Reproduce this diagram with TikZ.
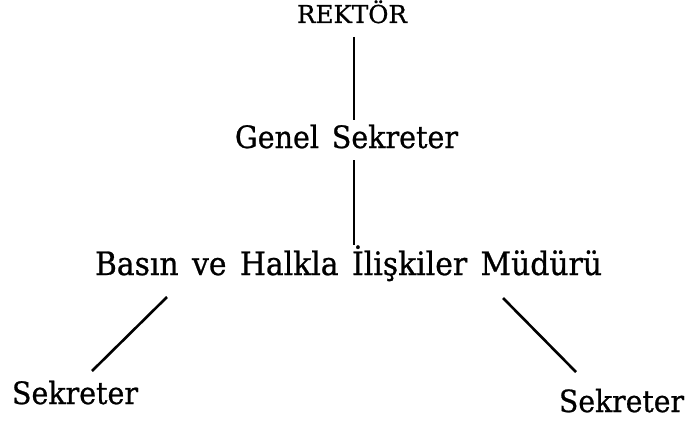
\documentclass[tikz,border=0pt]{standalone}
\usepackage{fontspec}
\setmainfont{DejaVu Serif}[FakeBold=0.8]
\usetikzlibrary{calc}
\newcommand{\fitw}[3]{\resizebox{#1pt}{!}{\scalebox{1}[#2]{\fontsize{20}{24}\selectfont\spaceskip=0.45em #3}}}
\begin{document}
\begin{tikzpicture}[x=1pt,y=-1pt,
  lbl/.style={anchor=base,inner sep=0pt,text=black},
  conn/.style={draw=black,line width=2.6pt}]
\useasboundingbox[fill=white] (0,0) rectangle (687,420);
\node[lbl] (rektor) at (352,23) {\fitw{110}{1.0}{REKTÖR}};
\node[lbl] (genel) at (346.5,148) {\fitw{223}{1.08}{Genel Sekreter}};
\node[lbl] (mudur) at (348.5,275) {\fitw{507}{1.08}{Basın ve Halkla İlişkiler Müdürü}};
\node[lbl] (sekl) at (75,404) {\fitw{126}{1.08}{Sekreter}};
\node[lbl] (sekr) at (621.5,412) {\fitw{125}{1.08}{Sekreter}};
\draw[conn] ([xshift=2pt,yshift=-14pt]rektor.base) -- ([xshift=7.5pt,yshift=28pt]genel.base);
\draw[conn] ([xshift=7.5pt,yshift=-12pt]genel.base) -- ([xshift=5.5pt,yshift=30pt]mudur.base);
\draw[conn] ([xshift=-181.5pt,yshift=-22pt]mudur.base) -- ([xshift=17pt,yshift=33pt]sekl.base);
\draw[conn] ([xshift=154.5pt,yshift=-23pt]mudur.base) -- ([xshift=-45.5pt,yshift=40pt]sekr.base);
\end{tikzpicture}
\end{document}
